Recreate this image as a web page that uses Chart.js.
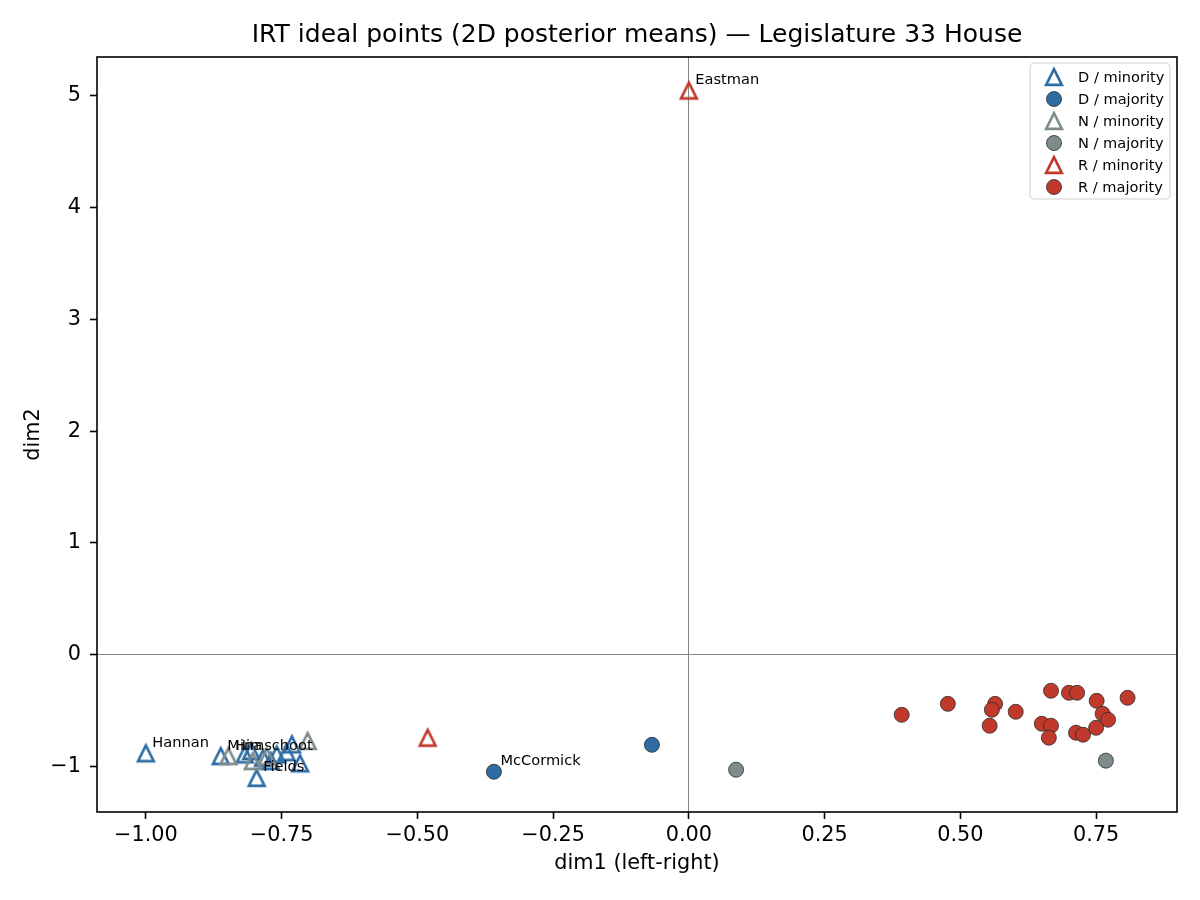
<!DOCTYPE html>
<html>
<head>
<meta charset="utf-8">
<script src="https://cdn.jsdelivr.net/npm/chart.js@4.4.1/dist/chart.umd.min.js"></script>
<style>
  html, body { margin: 0; padding: 0; background: #ffffff; }
  #wrap { width: 1200px; height: 900px; }
</style>
</head>
<body>
<div id="wrap"><canvas id="c" width="1200" height="900"></canvas></div>
<script>
// ---------------- data ----------------
const dMinority = [[-1.000,-0.880],[-0.862,-0.905],[-0.818,-0.890],[-0.806,-0.860],[-0.796,-1.100],
                   [-0.784,-0.920],[-0.770,-0.950],[-0.759,-0.890],[-0.741,-0.870],[-0.731,-0.800],[-0.716,-0.970]];
const dMinorityNames = ['Hannan','Mina','','','Fields','','','','','',''];
const dMajority = [[-0.068,-0.804],[-0.359,-1.045]];
const dMajorityNames = ['','McCormick'];
const nMinority = [[-0.848,-0.905],[-0.803,-0.950],[-0.777,-0.910],[-0.702,-0.770]];
const nMinorityNames = ['Himschoot','','',''];
const nMajority = [[0.087,-1.027],[0.768,-0.946]];
const nMajorityNames = ['',''];
const rMinority = [[0.000,5.045],[-0.481,-0.741]];
const rMinorityNames = ['Eastman',''];
const rMajority = [[0.392,-0.536],[0.477,-0.438],[0.564,-0.438],[0.558,-0.491],[0.554,-0.634],
                   [0.602,-0.509],[0.667,-0.321],[0.700,-0.339],[0.715,-0.339],[0.650,-0.616],
                   [0.667,-0.634],[0.663,-0.741],[0.751,-0.411],[0.808,-0.384],[0.762,-0.527],
                   [0.772,-0.580],[0.713,-0.696],[0.726,-0.714],[0.750,-0.652]];
const rMajorityNames = [];
const groupLabels = ['D / minority','D / majority','N / minority','N / majority','R / minority','R / majority'];
const xTicks = [-1.00,-0.75,-0.50,-0.25,0.00,0.25,0.50,0.75];
const yTicks = [-1,0,1,2,3,4,5];
const chartTitle = 'IRT ideal points (2D posterior means) \u2014 Legislature 33 House';
const xTitle = 'dim1 (left-right)';
const yTitle = 'dim2';

// ---------------- styling ----------------
const FONT = "'DejaVu Sans', 'Liberation Sans', sans-serif";
const BLUE = '#2e6da4', GRAY = '#7f8c8d', RED = '#c0392b';

function triCanvas(color) {
  const s = 34, c = document.createElement('canvas');
  c.width = s; c.height = s;
  const g = c.getContext('2d');
  const h = 7.9;
  g.beginPath();
  g.moveTo(s/2, s/2 - h);
  g.lineTo(s/2 - h, s/2 + h);
  g.lineTo(s/2 + h, s/2 + h);
  g.closePath();
  g.lineWidth = 2.6;
  g.lineJoin = 'miter';
  g.strokeStyle = color;
  g.stroke();
  return c;
}
const toPts = arr => arr.map(p => ({x: p[0], y: p[1]}));

function triSet(label, data, names, color, order) {
  return { label, data: toPts(data), names, pointStyle: triCanvas(color), radius: 9,
           backgroundColor: 'rgba(0,0,0,0)', borderColor: color, mColor: color, mType: 'tri', order };
}
function dotSet(label, data, names, color, order) {
  return { label, data: toPts(data), names, pointStyle: 'circle', radius: 7.5,
           backgroundColor: color, borderColor: '#2a2a2a', borderWidth: 0.8, mColor: color, mType: 'dot', order };
}

const datasets = [
  triSet(groupLabels[0], dMinority, dMinorityNames, BLUE, 5),
  dotSet(groupLabels[1], dMajority, dMajorityNames, BLUE, 4),
  triSet(groupLabels[2], nMinority, nMinorityNames, GRAY, 3),
  dotSet(groupLabels[3], nMajority, nMajorityNames, GRAY, 2),
  triSet(groupLabels[4], rMinority, rMinorityNames, RED, 1),
  dotSet(groupLabels[5], rMajority, rMajorityNames, RED, 0)
];

const fmtMinus = s => s.replace('-', '\u2212');

// title, frame, annotations and legend
const extras = {
  id: 'extras',
  afterDatasetsDraw(chart) {
    const ctx = chart.ctx;
    ctx.save();
    ctx.font = '14.6px ' + FONT;
    ctx.fillStyle = '#000';
    ctx.textAlign = 'left';
    ctx.textBaseline = 'alphabetic';
    chart.data.datasets.forEach((ds, i) => {
      const meta = chart.getDatasetMeta(i);
      (ds.names || []).forEach((n, j) => {
        if (!n) return;
        const el = meta.data[j];
        ctx.fillText(n, el.x + 6.5, el.y - 6.5);
      });
    });
    ctx.restore();
  },
  afterDraw(chart) {
    const ctx = chart.ctx, a = chart.chartArea;
    ctx.save();
    // title centred over the plot area
    ctx.font = '25px ' + FONT;
    ctx.fillStyle = '#000';
    ctx.textAlign = 'center';
    ctx.textBaseline = 'middle';
    ctx.fillText(chartTitle, (a.left + a.right) / 2, a.top - 22);
    // frame
    ctx.strokeStyle = '#000';
    ctx.lineWidth = 1.6;
    ctx.strokeRect(a.left, a.top, a.right - a.left, a.bottom - a.top);
    // legend
    const bx = a.right - 147, by = a.top + 6, bw = 140, bh = 136, r = 4;
    ctx.beginPath();
    ctx.moveTo(bx + r, by);
    ctx.arcTo(bx + bw, by, bx + bw, by + bh, r);
    ctx.arcTo(bx + bw, by + bh, bx, by + bh, r);
    ctx.arcTo(bx, by + bh, bx, by, r);
    ctx.arcTo(bx, by, bx + bw, by, r);
    ctx.closePath();
    ctx.fillStyle = 'rgba(255,255,255,0.8)';
    ctx.fill();
    ctx.strokeStyle = '#d0d0d0';
    ctx.lineWidth = 1;
    ctx.stroke();
    ctx.font = '14.6px ' + FONT;
    ctx.textBaseline = 'middle';
    ctx.textAlign = 'left';
    chart.data.datasets.forEach((ds, i) => {
      const cy = by + 14 + i * 22, mx = bx + 24;
      if (ds.mType === 'tri') {
        const img = ds.pointStyle;
        ctx.drawImage(img, mx - img.width / 2, cy - img.height / 2);
      } else {
        ctx.beginPath();
        ctx.arc(mx, cy, 7.5, 0, Math.PI * 2);
        ctx.fillStyle = ds.mColor;
        ctx.fill();
        ctx.lineWidth = 0.8;
        ctx.strokeStyle = '#2a2a2a';
        ctx.stroke();
      }
      ctx.fillStyle = '#000';
      ctx.fillText(ds.label, bx + 48, cy + 1);
    });
    ctx.restore();
  }
};

const zeroGrid = ctx => (ctx.tick && ctx.tick.value === 0) ? 'rgba(128,128,128,0.95)' : 'rgba(0,0,0,0)';

new Chart(document.getElementById('c'), {
  type: 'scatter',
  data: { datasets },
  options: {
    responsive: false,
    animation: false,
    devicePixelRatio: 1,
    layout: { padding: { left: 0, right: 23, top: 57, bottom: 0 } },
    plugins: {
      legend: { display: false },
      tooltip: { enabled: false },
      title: { display: false }
    },
    scales: {
      x: {
        type: 'linear', min: -1.09, max: 0.899,
        afterBuildTicks: s => { s.ticks = xTicks.map(v => ({ value: v })); },
        afterFit: s => { s.height = 88; },
        ticks: { color: '#000', font: { family: FONT, size: 20.8 }, padding: 4,
                 maxRotation: 0, autoSkip: false,
                 callback: v => fmtMinus(Number(v).toFixed(2)) },
        grid: { color: zeroGrid, lineWidth: 1, drawTicks: true, tickLength: 7,
                tickColor: '#000', tickWidth: 1.6 },
        border: { display: false },
        title: { display: true, text: xTitle, color: '#000',
                 font: { family: FONT, size: 20.8, lineHeight: 1.2 }, padding: { top: 0, bottom: 23.5 } }
      },
      y: {
        type: 'linear', min: -1.405, max: 5.345,
        afterBuildTicks: s => { s.ticks = yTicks.map(v => ({ value: v })); },
        afterFit: s => { s.width = 97; },
        ticks: { color: '#000', font: { family: FONT, size: 20.8 }, padding: 9,
                 autoSkip: false,
                 callback: v => fmtMinus(String(Math.round(v))) },
        grid: { color: zeroGrid, lineWidth: 1, drawTicks: true, tickLength: 7,
                tickColor: '#000', tickWidth: 1.6 },
        border: { display: false },
        title: { display: true, text: yTitle, color: '#000',
                 font: { family: FONT, size: 20.8, lineHeight: 1.2 }, padding: { top: 21, bottom: 0 } }
      }
    }
  },
  plugins: [extras]
});
</script>
</body>
</html>
